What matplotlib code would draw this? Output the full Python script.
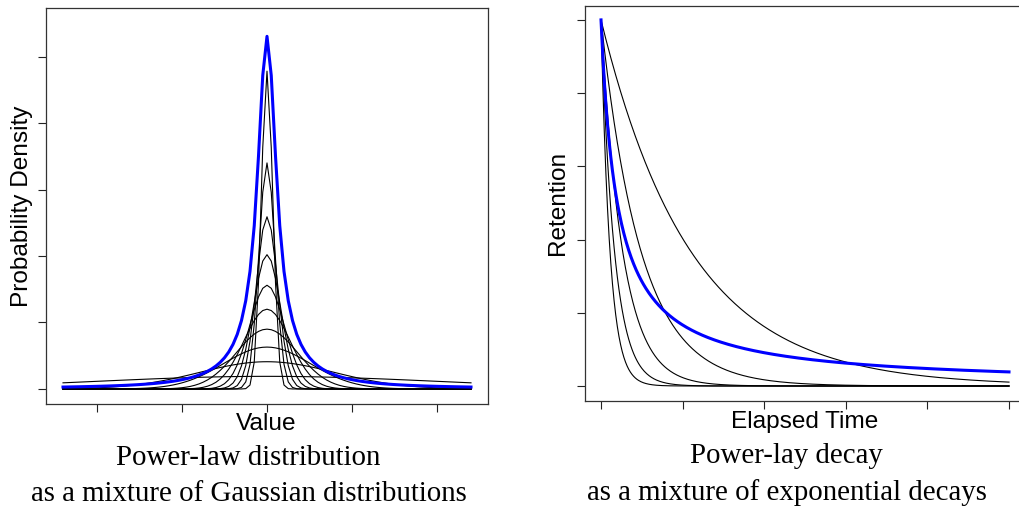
import numpy as np
import matplotlib
matplotlib.use('Agg')
import matplotlib.pyplot as plt

# left panel: gaussian components (peak height, standard deviation)
gauss_peak = [4.78, 3.40, 2.59, 2.02, 1.56, 1.20, 0.90, 0.63, 0.41, 0.19]
gauss_sd = [0.135, 0.19, 0.25, 0.32, 0.41, 0.54, 0.72, 1.02, 1.59, 4.0]
mixture_scale = 0.3          # blue curve = scaled sum of the components
value_ticks = [-4, -2, 0, 2, 4]
density_ticks = [0, 1, 2, 3, 4, 5]

# right panel: exponential decays (time constants) and power-law
decay_tau = [2.2, 3.3, 5.3, 9.8, 22.0]
power_scale = 4.0            # blue curve = 1 / (1 + t / power_scale)
time_ticks = [0, 20, 40, 60, 80, 100]
retention_ticks = [0, 0.2, 0.4, 0.6, 0.8, 1.0]

W, H = 1019, 509
fig = plt.figure(figsize=(W / 100, H / 100), dpi=100)


def box(l, t, r, b):
    return [l / W, 1 - b / H, (r - l) / W, (b - t) / H]


def r_style(ax):
    for s in ax.spines.values():
        s.set_color('#333333')
        s.set_linewidth(0.9)
    ax.tick_params(direction='out', length=5.8, width=0.8, color='#222222',
                   labelbottom=False, labelleft=False)


# ---- left panel
ax1 = fig.add_axes(box(46, 8, 488, 404))
x = np.arange(-4.8, 4.801, 0.1)
total = np.zeros_like(x)
for h, sd in zip(gauss_peak, gauss_sd):
    y = h * np.exp(-x ** 2 / (2 * sd ** 2))
    total += y
    ax1.plot(x, y, color='black', lw=0.8)
ax1.plot(x, total * mixture_scale, color='#0000ff', lw=2.2)
ax1.set_xlim(-5.2, 5.2)
ax1.set_ylim(-0.226, 5.73)
ax1.set_xticks(value_ticks)
ax1.set_yticks(density_ticks)
r_style(ax1)

# ---- right panel (box runs past the right edge of the picture)
ax2 = fig.add_axes(box(584.7, 6, 1025.3, 401))
t = np.linspace(0, 100, 501)
for tau in decay_tau:
    ax2.plot(t, np.exp(-t / tau), color='black', lw=0.8)
ax2.plot(t, 1 / (1 + t / power_scale), color='#0000ff', lw=2.2)
ax2.set_xlim(-4, 104)
ax2.set_ylim(-0.041, 1.038)
ax2.set_xticks(time_ticks)
ax2.set_yticks(retention_ticks)
r_style(ax2)

# ---- texts
sans = 'Liberation Sans'
serif = 'Liberation Serif'
sans_size = 17.6
serif_size = 20.8


def ftext(px, py, s, **kw):
    fig.text(px / W, 1 - py / H, s, **kw)


ftext(266, 430, 'Value', family=sans, fontsize=sans_size, ha='center', va='baseline')
ftext(22, 206, 'Probability Density', family=sans, fontsize=sans_size,
      ha='center', va='center', rotation=90)
ftext(248, 465, 'Power-law distribution', family=serif, fontsize=serif_size,
      ha='center', va='baseline')
ftext(249, 501, 'as a mixture of Gaussian distributions', family=serif,
      fontsize=serif_size, ha='center', va='baseline')

ftext(805, 428, 'Elapsed Time', family=sans, fontsize=sans_size, ha='center', va='baseline')
ftext(558, 203, 'Retention', family=sans, fontsize=sans_size,
      ha='center', va='center', rotation=90)
ftext(786, 463, 'Power-lay decay', family=serif, fontsize=serif_size,
      ha='center', va='baseline')
ftext(787, 500, 'as a mixture of exponential decays', family=serif,
      fontsize=serif_size, ha='center', va='baseline')

fig.savefig('out.png', dpi=100)
